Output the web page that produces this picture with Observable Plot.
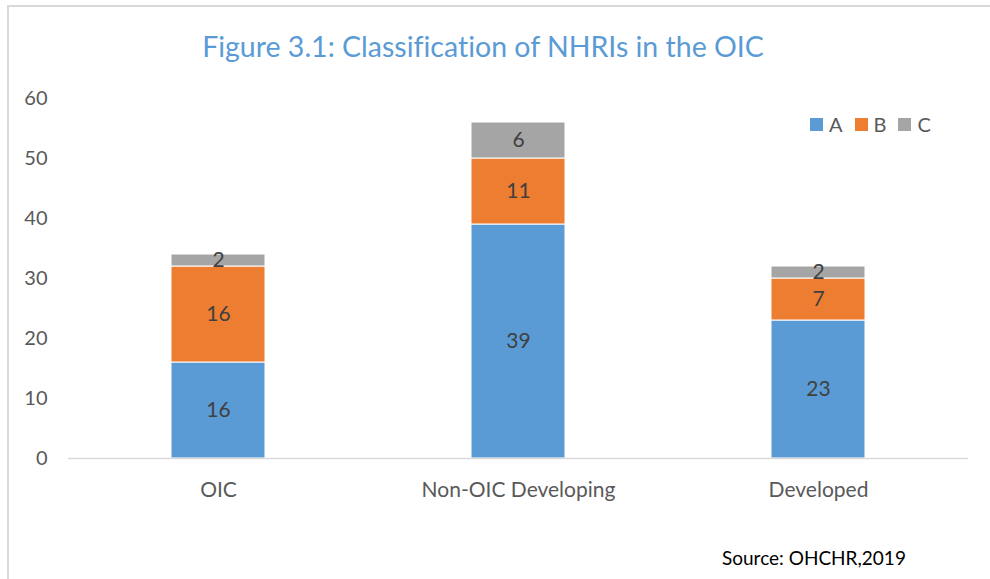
<!DOCTYPE html>
<html><head><meta charset="utf-8">
<script src="https://cdn.jsdelivr.net/npm/d3@7"></script>
<script src="https://cdn.jsdelivr.net/npm/@observablehq/plot@0.6"></script>
<style>
body{margin:0;background:#fff;font-family:Lato,"Open Sans",sans-serif;font-variant-ligatures:none;}
#wrap{position:relative;width:990px;height:579px;overflow:hidden;}
#frame{position:absolute;left:7px;top:5px;width:1000px;height:600px;border-left:2px solid #d9d9d9;border-top:2px solid #d9d9d9;}
#title{position:absolute;left:0;width:966px;top:29px;text-align:center;color:#5B9BD5;font-size:28.5px;}
#legend{position:absolute;left:810px;top:112px;display:flex;align-items:center;font-size:20px;color:#595959;}
#legend span.sw{display:inline-block;width:13px;height:13px;margin-right:6px;}
#legend span.lb{margin-right:12px;}
#source{position:absolute;left:722px;top:546px;font-size:19px;color:#000;}
#chart{position:absolute;left:0;top:0;}
</style></head>
<body>
<div id="wrap">
<div id="frame"></div>
<div id="chart"></div>
<div id="title">Figure 3.1: Classification of NHRIs in the OIC</div>
<div id="legend"></div>
<div id="source">Source: OHCHR,2019</div>
</div>
<script>
const categories = ["OIC", "Non-OIC Developing", "Developed"];
const seriesNames = ["A", "B", "C"];
const valuesA = [16, 39, 23];
const valuesB = [16, 11, 7];
const valuesC = [2, 6, 2];
const colors = ["#5B9BD5", "#ED7D31", "#A5A5A5"];
const yTicks = [0, 10, 20, 30, 40, 50, 60];

const series = [valuesA, valuesB, valuesC];
const data = [];
seriesNames.forEach((s, si) => categories.forEach((c, ci) => data.push({category: c, series: s, value: series[si][ci]})));

const chart = Plot.plot({
  width: 990, height: 579,
  marginLeft: 68, marginRight: 22, marginTop: 98, marginBottom: 121,
  style: {fontFamily: "Lato, 'Open Sans', sans-serif", background: "transparent"},
  x: {domain: categories, padding: 0, label: null, tickSize: 0, tickPadding: 24},
  y: {domain: [0, 60], ticks: yTicks, label: null, tickSize: 0, tickPadding: 21},
  color: {domain: seriesNames, range: colors},
  marks: [
    Plot.barY(data, Plot.stackY({x: "category", y: "value", z: "series", fill: "series", order: seriesNames, stroke: "white", strokeWidth: 1, insetLeft: 103, insetRight: 103})),
    Plot.text(data, Plot.stackY({x: "category", y: "value", z: "series", order: seriesNames, text: d => String(d.value), fill: "#404040", fontSize: 21})),
    Plot.ruleY([0], {stroke: "#d9d9d9", strokeWidth: 1.5})
  ]
});
chart.querySelectorAll("g[aria-label='x-axis tick label']").forEach(g => {g.setAttribute("font-size", "21"); g.setAttribute("fill", "#595959");});
chart.querySelectorAll("g[aria-label='y-axis tick label']").forEach(g => {g.setAttribute("font-size", "20"); g.setAttribute("fill", "#595959");});
document.getElementById("chart").appendChild(chart);

const leg = document.getElementById("legend");
seriesNames.forEach((s, i) => {
  const sw = document.createElement("span"); sw.className = "sw"; sw.style.background = colors[i];
  const lb = document.createElement("span"); lb.className = "lb"; lb.textContent = s;
  leg.appendChild(sw); leg.appendChild(lb);
});
</script>
</body></html>
